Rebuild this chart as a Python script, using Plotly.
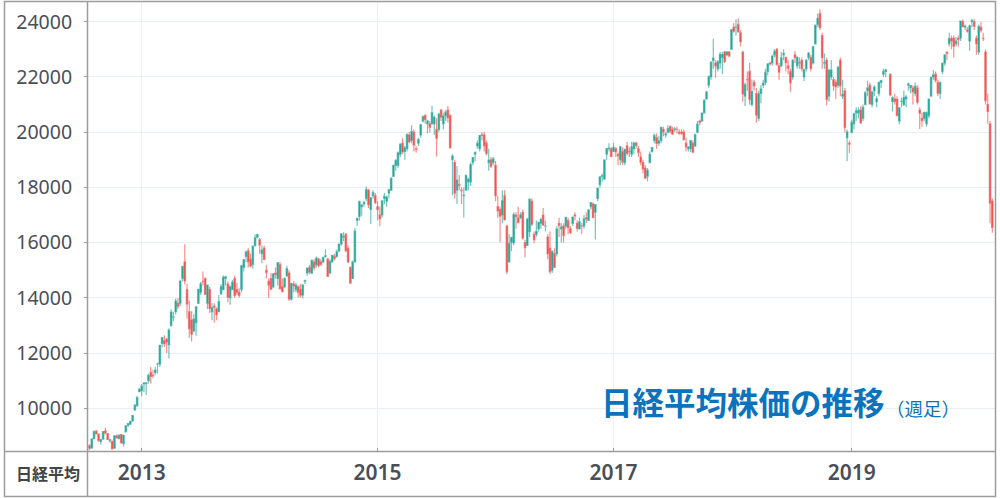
import pandas as pd
import plotly.graph_objects as go

# Nikkei 225 weekly candles: (open, high, low, close), weeks dated by their Monday
w2012 = [
    (8640, 8700, 8480, 8555), (8560, 8920, 8540, 8891), (8900, 9200, 8880, 9162),
    (9170, 9222, 9050, 9070), (9060, 9100, 8780, 8839), (8800, 8900, 8680, 8871),
    (8890, 9170, 8850, 9159), (9180, 9288, 9050, 9110), (9080, 9100, 8850, 8870),
    (8830, 8880, 8740, 8863), (8800, 8830, 8500, 8534), (8560, 9030, 8530, 9002),
    (9000, 9050, 8900, 8933), (8900, 9060, 8880, 9027), (9050, 9060, 8720, 8757),
    (8720, 9030, 8620, 9024), (9150, 9370, 9150, 9366), (9390, 9480, 9310, 9446),
    (9430, 9545, 9400, 9527), (9550, 9760, 9500, 9737), (9940, 10160, 9900, 10105),
    (10100, 10433, 10050, 10395), (10604, 10734, 10602, 10688),
]
w2013 = [
    (10640, 10880, 10434, 10801), (10880, 10952, 10581, 10913), (10900, 10950, 10486, 10926),
    (11000, 11250, 10900, 11191), (11300, 11498, 10900, 11153), (11200, 11400, 11100, 11173),
    (11300, 11500, 11200, 11386), (11600, 11650, 11250, 11606), (11600, 12290, 11500, 12283),
    (12350, 12560, 12200, 12560), (12450, 12650, 12220, 12338), (12500, 12550, 12000, 12398),
    (12300, 12900, 11805, 12834), (13000, 13590, 12950, 13485), (13300, 13500, 13150, 13316),
    (13500, 13980, 13400, 13884), (13800, 13990, 13600, 13694), (13800, 14650, 13700, 14607),
    (14700, 15150, 14600, 15138), (15300, 15942, 14480, 14612), (14300, 14500, 13250, 13775),
    (13500, 13900, 12548, 12877), (13200, 13514, 12415, 12686), (12800, 13400, 12750, 13230),
    (13100, 13700, 12630, 13677), (13800, 14310, 13800, 14310), (14200, 14570, 14100, 14506),
    (14600, 14953, 14450, 14589), (14700, 14750, 14100, 14129), (13800, 14470, 13600, 14466),
    (14300, 14400, 13450, 13615), (13500, 13800, 13190, 13650), (13700, 13800, 13100, 13660),
    (13600, 13650, 13188, 13389), (13500, 14100, 13500, 13860), (14150, 14500, 14100, 14404),
    (14300, 14818, 14300, 14742), (14700, 14800, 14450, 14760), (14500, 14600, 13850, 14024),
    (14000, 14450, 13750, 14404), (14300, 14650, 14300, 14561), (14700, 14800, 14000, 14088),
    (14300, 14550, 14100, 14201), (14200, 14350, 14000, 14086), (14300, 15200, 14200, 15165),
    (15100, 15400, 14950, 15381), (15500, 15727, 15300, 15661), (15700, 15800, 15100, 15299),
    (15400, 15600, 15100, 15152), (15200, 15900, 15050, 15870), (15900, 16300, 15850, 16178),
    (16200, 16320, 16150, 16291),
]
w2014 = [
    (16100, 16164, 15600, 15912), (15600, 15900, 15250, 15734), (15800, 15900, 15380, 15391),
    (15000, 15200, 14700, 14914), (14600, 14700, 13995, 14462), (14700, 14900, 14300, 14313),
    (14400, 14900, 14350, 14865), (14900, 15100, 14700, 14841), (14700, 15300, 14450, 15274),
    (15200, 15300, 14300, 14327), (14400, 14700, 14200, 14224), (14400, 14750, 14350, 14696),
    (14800, 15164, 14750, 15063), (14900, 15000, 13885, 13960), (13950, 14550, 13900, 14516),
    (14500, 14600, 14200, 14429), (14300, 14550, 14200, 14457), (14400, 14450, 14000, 14199),
    (14300, 14500, 14000, 14097), (14100, 14500, 13965, 14462), (14600, 14650, 14500, 14632),
    (14900, 15100, 14800, 15077), (15100, 15200, 14850, 14933), (14900, 15400, 14850, 15349),
    (15300, 15400, 15000, 15095), (15200, 15500, 15100, 15437), (15400, 15450, 15100, 15165),
    (15300, 15400, 15150, 15215), (15300, 15500, 15250, 15457), (15500, 15759, 15450, 15523),
    (15400, 15450, 14753, 14778), (14900, 15400, 14850, 15318), (15300, 15550, 15300, 15539),
    (15500, 15600, 15350, 15425), (15500, 15750, 15450, 15668), (15700, 15950, 15650, 15948),
    (15950, 16350, 15900, 16321), (16200, 16374, 16050, 16229), (16300, 16350, 15650, 15708),
    (15800, 15900, 15250, 15300), (15100, 15100, 14529, 14532), (14700, 15350, 14700, 15291),
    (15300, 16533, 15300, 16414), (16800, 16900, 16600, 16880), (16950, 17520, 16800, 17490),
    (17300, 17400, 16973, 17357), (17400, 17520, 17300, 17460), (17600, 18030, 17500, 17920),
    (17900, 17950, 17250, 17371), (17200, 17650, 16672, 17621), (17700, 17900, 17600, 17818),
    (17700, 17800, 17400, 17451),
]
w2015 = [
    (17300, 17500, 16808, 17197), (17000, 17300, 16592, 16864), (17000, 17550, 16900, 17511),
    (17600, 17800, 17400, 17674), (17500, 17700, 17300, 17648), (17800, 17950, 17600, 17913),
    (17900, 18350, 17900, 18332), (18400, 18800, 18400, 18798), (18800, 19030, 18600, 18971),
    (18800, 19300, 18700, 19254), (19200, 19600, 19100, 19560), (19600, 19778, 19200, 19286),
    (19300, 19500, 19000, 19435), (19400, 19960, 19300, 19908), (19900, 20006, 19600, 19653),
    (19700, 20252, 19600, 20020), (20000, 20100, 19300, 19531), (19400, 19500, 19258, 19379),
    (19600, 19800, 19500, 19733), (19900, 20300, 19800, 20264), (20400, 20600, 20350, 20563),
    (20600, 20655, 20300, 20460), (20300, 20450, 19950, 20407), (20300, 20400, 19990, 20174),
    (20300, 20952, 20300, 20706), (20300, 20600, 19900, 20539), (20100, 20500, 19115, 19779),
    (20100, 20700, 20000, 20650), (20800, 20850, 20400, 20544), (20300, 20700, 20100, 20585),
    (20600, 20800, 20400, 20724), (20800, 20946, 20350, 20519), (20600, 20650, 19400, 19435),
    (19000, 19200, 17714, 19136), (18900, 19000, 17600, 17792), (17900, 18770, 17400, 18264),
    (18100, 18450, 17900, 18070), (17900, 18000, 17400, 17880), (17700, 18000, 16901, 17725),
    (17900, 18450, 17900, 18438), (18200, 18350, 17900, 18291), (18200, 18900, 18050, 18826),
    (18900, 19100, 18800, 19083), (19200, 19300, 18950, 19265), (19500, 19700, 19400, 19596),
    (19400, 19900, 19300, 19879), (19900, 20000, 19700, 19883), (19900, 20012, 19300, 19504),
    (19600, 19700, 19150, 19230), (18900, 19400, 18600, 18986), (19000, 19100, 18700, 18769),
    (18900, 19100, 18800, 19034),
]
w2016 = [
    (18800, 18951, 17500, 17698), (17300, 17700, 16900, 17147), (17200, 17300, 16017, 16958),
    (17000, 17900, 16700, 17518), (17700, 17900, 16800, 16819), (16600, 16650, 14865, 14952),
    (15300, 16300, 15300, 15967), (16000, 16200, 15700, 16188), (16000, 17100, 15900, 17014),
    (17000, 17100, 16500, 16938), (16900, 17300, 16700, 16724), (16900, 17100, 16850, 17002),
    (17100, 17200, 16100, 16164), (16000, 16100, 15471, 15821), (15900, 16900, 15900, 16848),
    (16400, 17600, 16200, 17572), (17500, 17600, 16600, 16666), (16300, 16400, 15975, 16106),
    (16300, 16800, 16200, 16412), (16500, 16760, 16400, 16736), (16700, 16900, 16500, 16834),
    (17000, 17251, 16600, 16642), (16600, 16800, 16400, 16601), (16200, 16300, 15400, 15599),
    (15800, 16400, 14864, 14952), (15000, 15720, 14900, 15682), (15600, 15800, 15100, 15106),
    (15600, 16600, 15500, 16497), (16700, 16900, 16200, 16627), (16500, 16700, 16000, 16569),
    (16600, 16700, 16000, 16254), (16600, 16900, 16500, 16919), (16800, 16900, 16300, 16545),
    (16500, 16600, 16300, 16360), (16700, 16950, 16600, 16925), (17000, 17100, 16800, 16965),
    (16700, 16800, 16400, 16519), (16500, 16900, 16500, 16754), (16600, 16700, 16300, 16599),
    (16600, 17000, 16500, 16860), (16900, 17100, 16700, 16856), (16800, 17200, 16800, 17184),
    (17300, 17450, 17200, 17446), (17400, 17450, 16900, 16905), (17100, 17400, 16111, 17374),
    (17600, 18000, 17500, 17967), (18100, 18400, 18000, 18381), (18400, 18500, 18200, 18426),
    (18300, 19000, 18300, 18996), (19200, 19430, 19000, 19401), (19400, 19600, 19300, 19427),
    (19400, 19450, 19100, 19114),
]
w2017 = [
    (19300, 19615, 19300, 19454), (19400, 19450, 19100, 19287), (19200, 19250, 18800, 19137),
    (19000, 19500, 18800, 19467), (19300, 19450, 18800, 18918), (18900, 19400, 18800, 19378),
    (19500, 19650, 19150, 19234), (19300, 19450, 19100, 19283), (19200, 19650, 19100, 19469),
    (19400, 19650, 19200, 19604), (19600, 19650, 19400, 19521), (19400, 19500, 19100, 19262),
    (19100, 19300, 18800, 18909), (18900, 19000, 18500, 18664), (18700, 18800, 18300, 18335),
    (18400, 18700, 18225, 18620), (18900, 19300, 18900, 19197), (19300, 19450, 19250, 19445),
    (19700, 19950, 19600, 19883), (19800, 19950, 19400, 19590), (19600, 19850, 19500, 19686),
    (19700, 20200, 19600, 20177), (20100, 20200, 19850, 20013), (19900, 20000, 19800, 19943),
    (20000, 20250, 19950, 20132), (20200, 20250, 19950, 20033), (20100, 20200, 19900, 19929),
    (20100, 20200, 20000, 20118), (20100, 20200, 19950, 20099), (20000, 20100, 19900, 19959),
    (20000, 20100, 19900, 19952), (20000, 20100, 19700, 19729), (19600, 19800, 19300, 19470),
    (19400, 19500, 19300, 19452), (19400, 19700, 19280, 19691), (19600, 19700, 19239, 19274),
    (19500, 19950, 19450, 19909), (20000, 20400, 19950, 20296), (20400, 20450, 20250, 20356),
    (20400, 20700, 20400, 20690), (20700, 21200, 20700, 21155), (21200, 21500, 21200, 21457),
    (21700, 22050, 21600, 22008), (22000, 22550, 21900, 22539), (22600, 23382, 22300, 22681),
    (22500, 22600, 21972, 22397), (22300, 22600, 22200, 22551), (22500, 22900, 22300, 22819),
    (22700, 22900, 22100, 22811), (22900, 22950, 22500, 22553), (22800, 22950, 22750, 22902),
    (22900, 22950, 22700, 22765),
]
w2018 = [
    (23000, 23730, 23000, 23714), (23800, 23950, 23600, 23653), (23800, 24084, 23500, 23808),
    (23900, 24129, 23600, 23632), (23600, 23700, 23100, 23274), (22900, 22950, 21100, 21382),
    (21300, 21800, 20950, 21720), (21900, 22200, 21500, 21892), (22200, 22500, 21000, 21182),
    (21000, 21900, 20937, 21469), (21800, 21900, 21500, 21676), (21400, 21600, 20347, 20617),
    (20500, 21500, 20400, 21388), (21400, 21700, 21050, 21567), (21700, 21900, 21600, 21778),
    (21800, 22300, 21700, 22162), (22200, 22500, 22050, 22467), (22500, 22550, 22400, 22472),
    (22500, 22800, 22400, 22758), (22800, 23000, 22700, 22930), (23000, 23050, 22400, 22450),
    (22400, 22500, 21900, 22171), (22400, 22900, 22350, 22694), (22800, 23000, 22600, 22851),
    (22700, 22750, 22200, 22516), (22400, 22600, 22100, 22305), (22200, 22300, 21462, 21788),
    (22000, 22650, 21900, 22597), (22800, 22950, 22500, 22698), (22400, 22750, 22300, 22712),
    (22500, 22700, 22300, 22525), (22600, 22700, 22200, 22298), (22000, 22300, 21851, 22270),
    (22300, 22650, 22200, 22601), (22700, 22900, 22600, 22865), (22700, 22800, 22200, 22307),
    (22500, 23100, 22450, 23094), (23200, 23900, 23200, 23870), (23900, 24286, 23800, 24120),
    (24300, 24448, 23700, 23784), (23500, 23600, 22300, 22694), (22500, 22850, 22300, 22532),
    (22600, 22700, 20971, 21184), (21300, 22300, 21100, 22243), (22000, 22600, 21900, 22250),
    (21900, 22000, 21500, 21680), (21800, 21900, 21200, 21646), (21700, 22400, 21600, 22351),
    (22600, 22700, 21300, 21678), (21300, 21900, 21200, 21374), (21500, 21600, 20000, 20166),
    (19800, 20100, 18949, 20015), (19600, 19700, 19241, 19561),
]
w2019 = [
    (20000, 20450, 19950, 20359), (20300, 20700, 20100, 20666), (20700, 20900, 20400, 20773),
    (20700, 20900, 20500, 20788), (20800, 20950, 20300, 20333), (20500, 21000, 20400, 20900),
    (21000, 21500, 21000, 21425), (21500, 21860, 21300, 21602), (21700, 21800, 21000, 21025),
    (21000, 21500, 20900, 21450), (21500, 21700, 21300, 21627), (21100, 21300, 20900, 21206),
    (21400, 21830, 21300, 21807), (21800, 21900, 21600, 21870), (22100, 22300, 22000, 22200),
    (22200, 22300, 22000, 22259),
    (22100, 22100, 21300, 21345), (21100, 21300, 20751, 21250), (21200, 21400, 21000, 21117),
    (21200, 21300, 20600, 20601), (20400, 20900, 20289, 20884), (21100, 21250, 20900, 21117),
    (21000, 21500, 20950, 21258), (21200, 21350, 20900, 21276), (21700, 21800, 21500, 21746),
    (21600, 21700, 21400, 21686), (21600, 21700, 21000, 21467), (21400, 21800, 21300, 21658),
    (21600, 21700, 21000, 21087), (20800, 20900, 20110, 20684), (20500, 20700, 20200, 20418),
    (20500, 20750, 20400, 20711), (20300, 20750, 20200, 20704), (20600, 21200, 20500, 21199),
    (21300, 22000, 21300, 21988), (22000, 22250, 21900, 22079), (22100, 22200, 21800, 21878),
    (21800, 21900, 21300, 21410), (21400, 21800, 21200, 21799), (22200, 22500, 22100, 22492),
    (22500, 22800, 22400, 22799), (22900, 22900, 22600, 22850), (23200, 23600, 23100, 23391),
    (23400, 23500, 23000, 23303), (23400, 23500, 22700, 23112), (23200, 23450, 23100, 23293),
    (23400, 23500, 23100, 23354), (23400, 24023, 23300, 24023), (24000, 24091, 23800, 23816),
    (23800, 23900, 23700, 23837), (23700, 23800, 23600, 23656),
]
w2020 = [
    (23300, 23900, 22951, 23850), (24000, 24115, 23800, 24041), (24000, 24100, 23700, 23827),
    (23400, 23500, 22800, 23205), (22900, 23900, 22800, 23827), (23800, 24000, 23600, 23687),
    (23400, 23600, 23300, 23386), (22900, 23000, 21000, 21142), (21000, 21400, 20300, 20749),
    (20300, 20400, 16690, 17431), (17500, 17600, 16358, 16552),
]

first_week = "2012-07-30"
closed_weeks = ["2019-04-29"]          # Golden Week 2019: market shut all week
year_labels = ["2013", "2015", "2017", "2019"]
y_ticks = [10000, 12000, 14000, 16000, 18000, 20000, 22000, 24000]

rows = w2012 + w2013 + w2014 + w2015 + w2016 + w2017 + w2018 + w2019 + w2020
all_weeks = pd.date_range(first_week, periods=len(rows) + len(closed_weeks), freq="7D")
weeks = all_weeks[~all_weeks.isin(pd.to_datetime(closed_weeks))]

opens = [r[0] for r in rows]
highs = [r[1] for r in rows]
lows = [r[2] for r in rows]
closes = [r[3] for r in rows]

# year ticks sit on the first weekly candle of each labelled year
tick_dates = [weeks[weeks.year == int(y)][0] for y in year_labels]

# frame geometry (pixels)
W, H = 1000, 498
PL, PR, PT, PB = 88, 995, 2, 451
px_per_day = 0.32405
x0 = weeks[0] - pd.Timedelta(days=1.5 / px_per_day)
x1 = x0 + pd.Timedelta(days=(PR - PL) / px_per_day)


def px(x):
    return (x - PL) / (PR - PL)


def py(y):
    return (PB - y) / (PB - PT)


UP, DOWN = "#26a69a", "#ef5350"
GRID = "#e9eff3"
FRAME = "#9c9c9c"
TEXT = "#4b4e58"
BLUE = "#0b73be"

fig = go.Figure(
    go.Candlestick(
        x=weeks, open=opens, high=highs, low=lows, close=closes,
        increasing=dict(fillcolor=UP, line=dict(color="rgba(38,166,154,0.65)", width=1.2)),
        decreasing=dict(fillcolor=DOWN, line=dict(color="rgba(239,83,80,0.65)", width=1.2)),
        whiskerwidth=0,
        showlegend=False,
    )
)

fig.update_layout(
    width=W, height=H,
    margin=dict(l=PL, r=W - PR, t=PT, b=H - PB, pad=0),
    paper_bgcolor="white", plot_bgcolor="white",
    showlegend=False,
    boxgap=0.12,
    xaxis=dict(
        type="date", range=[x0, x1],
        rangeslider=dict(visible=False),
        tickmode="array", tickvals=tick_dates, ticktext=year_labels,
        ticks="inside", ticklen=3, tickcolor=FRAME,
        tickfont=dict(family="Noto Sans", size=21, color=TEXT, weight=600),
        ticklabelstandoff=7,
        showgrid=True, gridcolor=GRID, gridwidth=1,
        showline=False, zeroline=False,
    ),
    yaxis=dict(
        range=[8454, 24713],
        tickmode="array", tickvals=y_ticks, ticktext=[str(v) for v in y_ticks],
        ticks="outside", ticklen=3, tickcolor=FRAME,
        tickfont=dict(family="Noto Sans", size=19.5, color=TEXT),
        ticklabelstandoff=8,
        showgrid=True, gridcolor=GRID, gridwidth=1,
        showline=False, zeroline=False,
    ),
)

# table-like frame: outer box, left label column and bottom axis row
line = dict(color=FRAME, width=1.5)
fig.add_shape(type="rect", xref="paper", yref="paper",
              x0=px(4.5), x1=px(995.5), y0=py(496.5), y1=py(1.5), line=line, layer="above")
fig.add_shape(type="line", xref="paper", yref="paper",
              x0=px(87.5), x1=px(87.5), y0=py(496.5), y1=py(1.5), line=line, layer="above")
fig.add_shape(type="line", xref="paper", yref="paper",
              x0=px(4.5), x1=px(995.5), y0=py(451.5), y1=py(451.5), line=line, layer="above")

fig.add_annotation(
    text="日経平均", xref="paper", yref="paper", x=px(48), y=py(473),
    xanchor="center", yanchor="middle", showarrow=False,
    font=dict(family="Noto Sans CJK JP", size=16, color="#444444", weight="bold"),
)
fig.add_annotation(
    text="<b>日経平均株価の推移</b>", xref="paper", yref="paper", x=px(887), y=py(401),
    xanchor="right", yanchor="middle", showarrow=False,
    font=dict(family="Noto Sans CJK JP", size=31.5, color=BLUE),
)
fig.add_annotation(
    text="（週足）", xref="paper", yref="paper", x=px(884), y=py(407.5),
    xanchor="left", yanchor="middle", showarrow=False,
    font=dict(family="Noto Sans CJK JP", size=18.5, color=BLUE),
)

fig.write_html("out.html")
